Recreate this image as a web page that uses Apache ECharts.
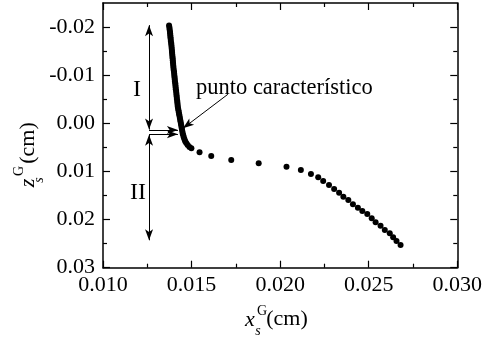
<!DOCTYPE html>
<html><head><meta charset="utf-8">
<script src="https://cdn.jsdelivr.net/npm/echarts@6/dist/echarts.min.js"></script>
<style>html,body{margin:0;padding:0;background:#fff}#c{width:485px;height:345px}</style>
</head><body><div id="c"></div>
<script>
// ---- data ----
const xs = [0.01373,0.01375,0.01376,0.01378,0.01379,0.01380,0.01381,0.01382,0.01383,0.01385,0.01386,0.01387,0.01388,0.01389,0.01390,0.01391,0.01392,0.01393,0.01394,0.01395,0.01396,0.01397,0.01398,0.01399,0.01401,0.01402,0.01403,0.01404,0.01405,0.01406,0.01408,0.01409,0.01410,0.01411,0.01413,0.01414,0.01415,0.01416,0.01417,0.01419,0.01420,0.01421,0.01422,0.01424,0.01426,0.01428,0.01430,0.01432,0.01434,0.01436,0.01438,0.01440,0.01442,0.01444,0.01446,0.01448,0.01450,0.01453,0.01456,0.01460,0.01464,0.01470,0.01478,0.01488,0.01499,
  0.01545,0.01611,0.01724,0.01879,0.02036,0.02117,0.02174,0.02215,0.02243,0.02276,0.02305,0.02333,0.02357,0.02385,0.02411,0.02439,0.02464,0.02492,0.02517,0.02539,0.02567,0.02591,0.02619,0.02638,0.02657,0.02680];
const zs = [-0.0203,-0.0199,-0.0195,-0.0191,-0.0187,-0.0183,-0.0179,-0.0175,-0.0171,-0.0167,-0.0163,-0.0159,-0.0155,-0.0151,-0.0147,-0.0143,-0.0139,-0.0135,-0.0131,-0.0127,-0.0123,-0.0119,-0.0115,-0.0111,-0.0107,-0.0103,-0.0099,-0.0095,-0.0091,-0.0087,-0.0083,-0.0079,-0.0075,-0.0071,-0.0067,-0.0063,-0.0059,-0.0055,-0.0051,-0.0047,-0.0043,-0.0039,-0.0035,-0.0031,-0.0027,-0.0023,-0.0019,-0.0015,-0.0011,-0.0007,-0.0003,0.0001,0.0005,0.0009,0.0013,0.0017,0.0021,0.0025,0.0029,0.0033,0.0037,0.0041,0.0045,0.0049,0.0052,
  0.00603,0.00679,0.00763,0.00831,0.00902,0.00970,0.01053,0.01122,0.01199,0.01282,0.01365,0.01442,0.01525,0.01594,0.01683,0.01754,0.01822,0.01885,0.01974,0.02057,0.02128,0.02217,0.02285,0.02368,0.02446,0.02529];
const zMajorTicks = [-0.02,-0.01,0,0.01,0.02,0.03];
const zMinorTicks = [-0.015,-0.005,0.005,0.015,0.025];
// annotation arrows (data space)
const arrowX = 0.0126;
const arrowI = [-0.0204, 0.0013];
const arrowII = [0.0024, 0.0243];
const hArrowZ = [0.00139, 0.00229];
const hArrowEndX = 0.01423;
const pointerFrom = [0.01705, -0.00603];
const pointerTo = [0.014515, 0.00104];

const FONT = "'Liberation Serif','Times New Roman',serif";
const chart = echarts.init(document.getElementById('c'), null, {renderer:'canvas'});
const pts = xs.map((x,i)=>[x, zs[i]]);
const lineCol = '#000';
function xAx(pos, showLabel){
  return {type:'value', position:pos, min:0.010, max:0.030, interval:0.005,
    axisLine:{show:true, onZero:false, lineStyle:{color:lineCol, width:1.5}},
    axisTick:{show:true, inside:true, length:7, lineStyle:{color:lineCol, width:1.2}},
    minorTick:{show:true, splitNumber:2, length:4, lineStyle:{color:lineCol, width:1.2}},
    splitLine:{show:false}, minorSplitLine:{show:false},
    axisLabel:{show:showLabel, margin:7, color:'#000', fontFamily:FONT, fontSize:22, formatter:v=>v.toFixed(3)}};
}
function yAx(pos, ticks, len, showLine, showLabel){
  return {type:'value', position:pos, inverse:true, min:-0.025, max:0.03, interval:0.005,
    axisLine:{show:showLine, onZero:false, lineStyle:{color:lineCol, width:1.5}},
    axisTick:{show:true, inside:true, length:len, customValues:ticks, lineStyle:{color:lineCol, width:1.2}},
    splitLine:{show:false},
    axisLabel:{show:showLabel, customValues:ticks, margin:8, color:'#000', fontFamily:FONT, fontSize:22, formatter:v=>v.toFixed(2)}};
}
const mlData = [
  [{coord:[arrowX, arrowI[0]], symbol:'arrow'}, {coord:[arrowX, arrowI[1]], symbol:'arrow'}],
  [{coord:[arrowX, arrowII[0]], symbol:'arrow'}, {coord:[arrowX, arrowII[1]], symbol:'arrow'}],
  [{coord:[arrowX, hArrowZ[0]], symbol:'none'}, {coord:[hArrowEndX, hArrowZ[0]], symbol:'arrow'}],
  [{coord:[arrowX, hArrowZ[1]], symbol:'none'}, {coord:[hArrowEndX, hArrowZ[1]], symbol:'arrow'}],
  [{coord:pointerFrom, symbol:'none'}, {coord:pointerTo, symbol:'arrow'}]
];
function txt(text, x, y, font, rot, align){
  return {type:'text', x:x, y:y, rotation:rot||0, silent:true,
    style:{text:text, fill:'#000', font:font, align:align||'center', verticalAlign:'middle'}};
}
const ROT = Math.PI/2;
chart.setOption({
  animation:false,
  grid:{left:103, top:3, right:26.3, bottom:77.3, containLabel:false},
  xAxis:[xAx('bottom', true), xAx('top', false)],
  yAxis:[yAx('left', zMajorTicks, 7, true, true), yAx('left', zMinorTicks, 4, false, false),
         yAx('right', zMajorTicks, 7, true, false), yAx('right', zMinorTicks, 4, false, false)],
  series:[{type:'scatter', xAxisIndex:0, yAxisIndex:0, data:pts, symbol:'circle', symbolSize:6,
    itemStyle:{color:'#000', opacity:1}, emphasis:{disabled:true}, silent:true,
    markLine:{silent:true, animation:false, symbolSize:[6,11], label:{show:false}, emphasis:{disabled:true},
      lineStyle:{color:'#000', width:1, type:'solid'}, data:mlData}}],
  graphic:[
    txt('I', 137, 90, '24px '+FONT),
    txt('II', 138, 193, '24px '+FONT),
    txt('punto característico', 196, 88, '22.5px '+FONT, 0, 'left'),
    // x-axis title
    txt('x', 250, 320, 'italic 22px '+FONT),
    txt('s', 258, 331, 'italic 14px '+FONT),
    txt('G', 262, 311, '14px '+FONT),
    txt('(cm)', 287, 319, '22px '+FONT),
    // y-axis title (rotated)
    txt('z', 28, 183, 'italic 22px '+FONT, ROT),
    txt('s', 39, 180, 'italic 14px '+FONT, ROT),
    txt('G', 19, 171, '14px '+FONT, ROT),
    txt('(cm)', 28, 143, '22px '+FONT, ROT)
  ]
});
</script></body></html>
